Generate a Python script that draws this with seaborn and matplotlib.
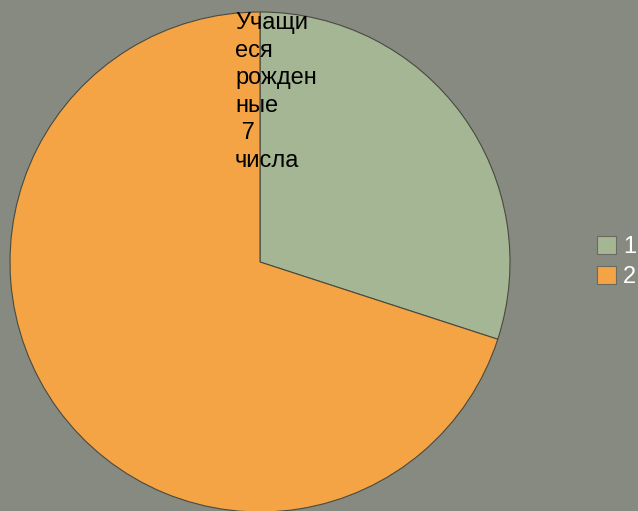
import matplotlib
matplotlib.use('Agg')
import matplotlib.pyplot as plt
import seaborn as sns
from matplotlib.patches import Patch

# данные
categories = ['1', '2']
values = [3, 7]
title_text = 'Учащи\nеся\nрожден\nные\n 7\nчисла'

sns.set_style('white')
plt.rcParams['font.family'] = ['Liberation Sans', 'DejaVu Sans']

colors = sns.color_palette(['#a5b694', '#f4a444'])
bg = '#868a80'

fig = plt.figure(figsize=(6.38, 5.11), dpi=100)
fig.patch.set_facecolor(bg)
ax = fig.add_axes([0, 0, 1, 1])
ax.set_facecolor(bg)

ax.pie(values, colors=colors, startangle=90, counterclock=False,
       center=(260, 249), radius=250, frame=True,
       wedgeprops=dict(edgecolor='#4a4a40', linewidth=0.8))
ax.set_xlim(0, 638)
ax.set_ylim(0, 511)
ax.set_aspect('equal')
ax.axis('off')

ax.text(235, 499, title_text, fontsize=17, color='black',
        va='top', ha='left', linespacing=1.33)

handles = [Patch(facecolor=c, edgecolor='#6a6a60', linewidth=0.8) for c in colors]
leg = ax.legend(handles, categories, loc='center left',
                bbox_to_anchor=(597 / 638, 1 - 262 / 511),
                frameon=False, fontsize=17, labelcolor='white',
                handlelength=0.8, handleheight=0.8, handletextpad=0.3,
                labelspacing=0.3, borderpad=0, borderaxespad=0)

fig.savefig('out.png', dpi=100, facecolor=bg)
